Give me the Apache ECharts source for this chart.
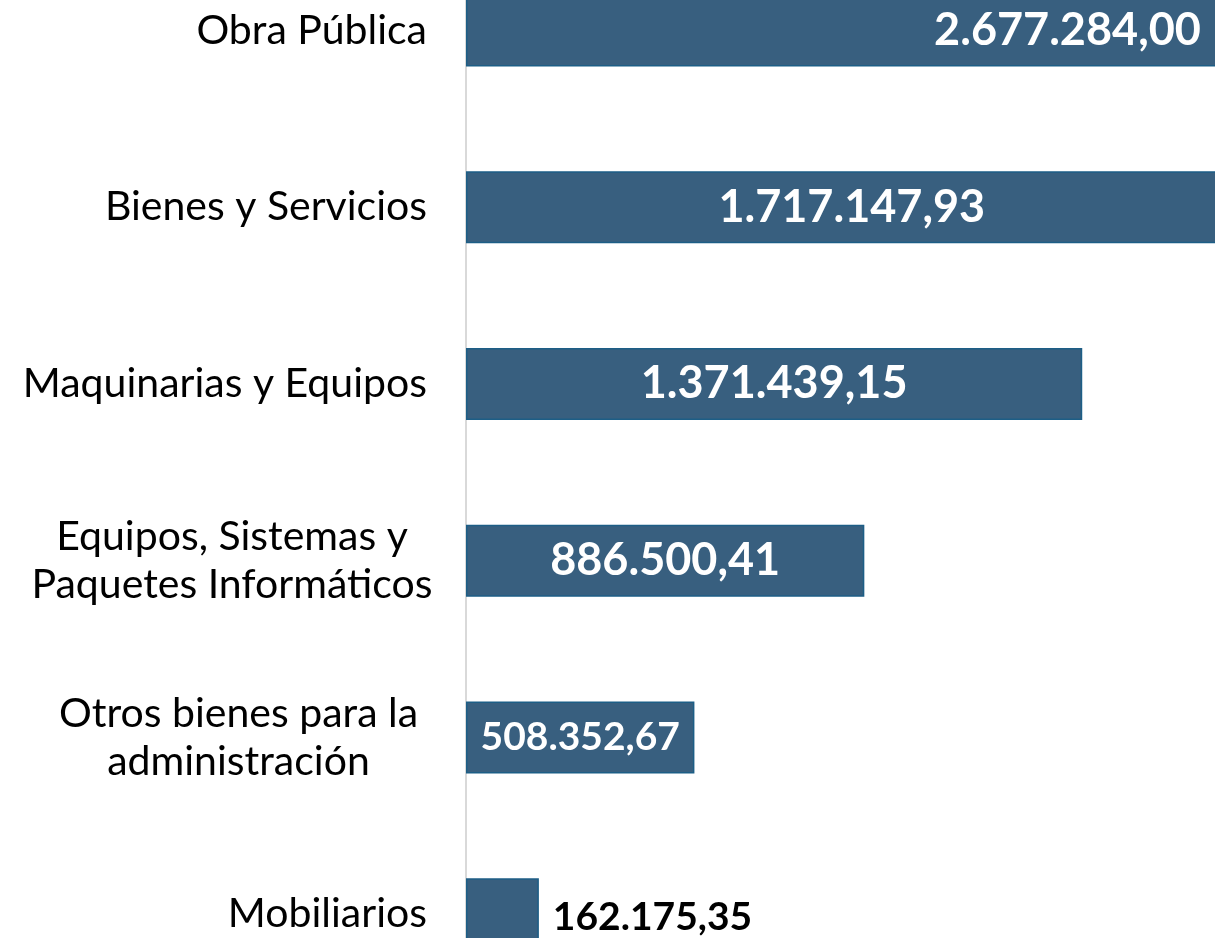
<!DOCTYPE html>
<html>
<head>
<meta charset="utf-8">
<script src="https://cdn.jsdelivr.net/npm/echarts@6/dist/echarts.min.js"></script>
<style>
  html, body { margin: 0; padding: 0; background: #ffffff; }
  #chart { width: 1215px; height: 938px; }
</style>
</head>
<body>
<div id="chart"></div>
<script>
// Inversión por tipo de bien (valores en moneda local)
const categories = [
  'Obra Pública',
  'Bienes y Servicios',
  'Maquinarias y Equipos',
  'Equipos, Sistemas y\nPaquetes Informáticos',
  'Otros bienes para la\nadministración',
  'Mobiliarios'
];
const amounts = [2677284.00, 1717147.93, 1371439.15, 886500.41, 508352.67, 162175.35];

const FONT = 'Lato, "Noto Sans", sans-serif';
const BAR = '#385f7f';
const BAR_EDGE = '#1d5e86';
const CAT_SIZE = 41;
const VAL_SIZE = 45;
const VAL_SIZE_SMALL = 39;

// 1.234.567,89
function fmt(v) {
  const parts = v.toFixed(2).split('.');
  const intPart = parts[0].replace(/\B(?=(\d{3})+(?!\d))/g, '.');
  return intPart + ',' + parts[1];
}

const data = amounts.map(function (v) {
  if (v < 300000) {
    // too short for an inside label: put it after the bar end
    return {
      value: v,
      label: { position: 'right', distance: 14, color: '#000000', fontSize: VAL_SIZE_SMALL, offset: [0, 3] }
    };
  }
  return {
    value: v,
    label: { position: 'inside', color: '#ffffff', fontSize: v < 600000 ? VAL_SIZE_SMALL : VAL_SIZE }
  };
});

const chart = echarts.init(document.getElementById('chart'), null, { renderer: 'canvas' });
chart.setOption({
  animation: false,
  backgroundColor: '#ffffff',
  grid: {
    left: 466, top: -58, width: 1348, height: 1060.5,
    containLabel: false,
    outerBoundsMode: 'none'
  },
  xAxis: {
    type: 'value',
    min: 0,
    max: 3000000,
    show: false
  },
  yAxis: {
    type: 'category',
    inverse: true,
    data: categories,
    axisLine: { show: true, lineStyle: { color: '#d9d9d9', width: 2 } },
    axisTick: { show: false },
    axisLabel: {
      margin: 39,
      color: '#000000',
      fontFamily: FONT,
      fontSize: CAT_SIZE,
      lineHeight: 48,
      formatter: function (val) {
        if (val.indexOf('\n') < 0) return val;
        const key = val.indexOf('Equipos') === 0 ? 'a' : 'b';
        return val.split('\n').map(function (l) { return '{' + key + '|' + l + '}'; }).join('\n');
      },
      rich: {
        a: { width: 390, align: 'center', fontSize: CAT_SIZE, lineHeight: 48, fontFamily: FONT, color: '#000000' },
        b: { width: 377, align: 'center', fontSize: CAT_SIZE, lineHeight: 48, fontFamily: FONT, color: '#000000' }
      }
    }
  },
  series: [{
    type: 'bar',
    data: data,
    barWidth: 72,
    itemStyle: { color: BAR, borderColor: BAR_EDGE, borderWidth: 1.5 },
    label: {
      show: true,
      fontFamily: FONT,
      fontWeight: 'bold',
      fontSize: VAL_SIZE,
      formatter: function (p) { return fmt(p.value); }
    }
  }]
});
</script>
</body>
</html>
